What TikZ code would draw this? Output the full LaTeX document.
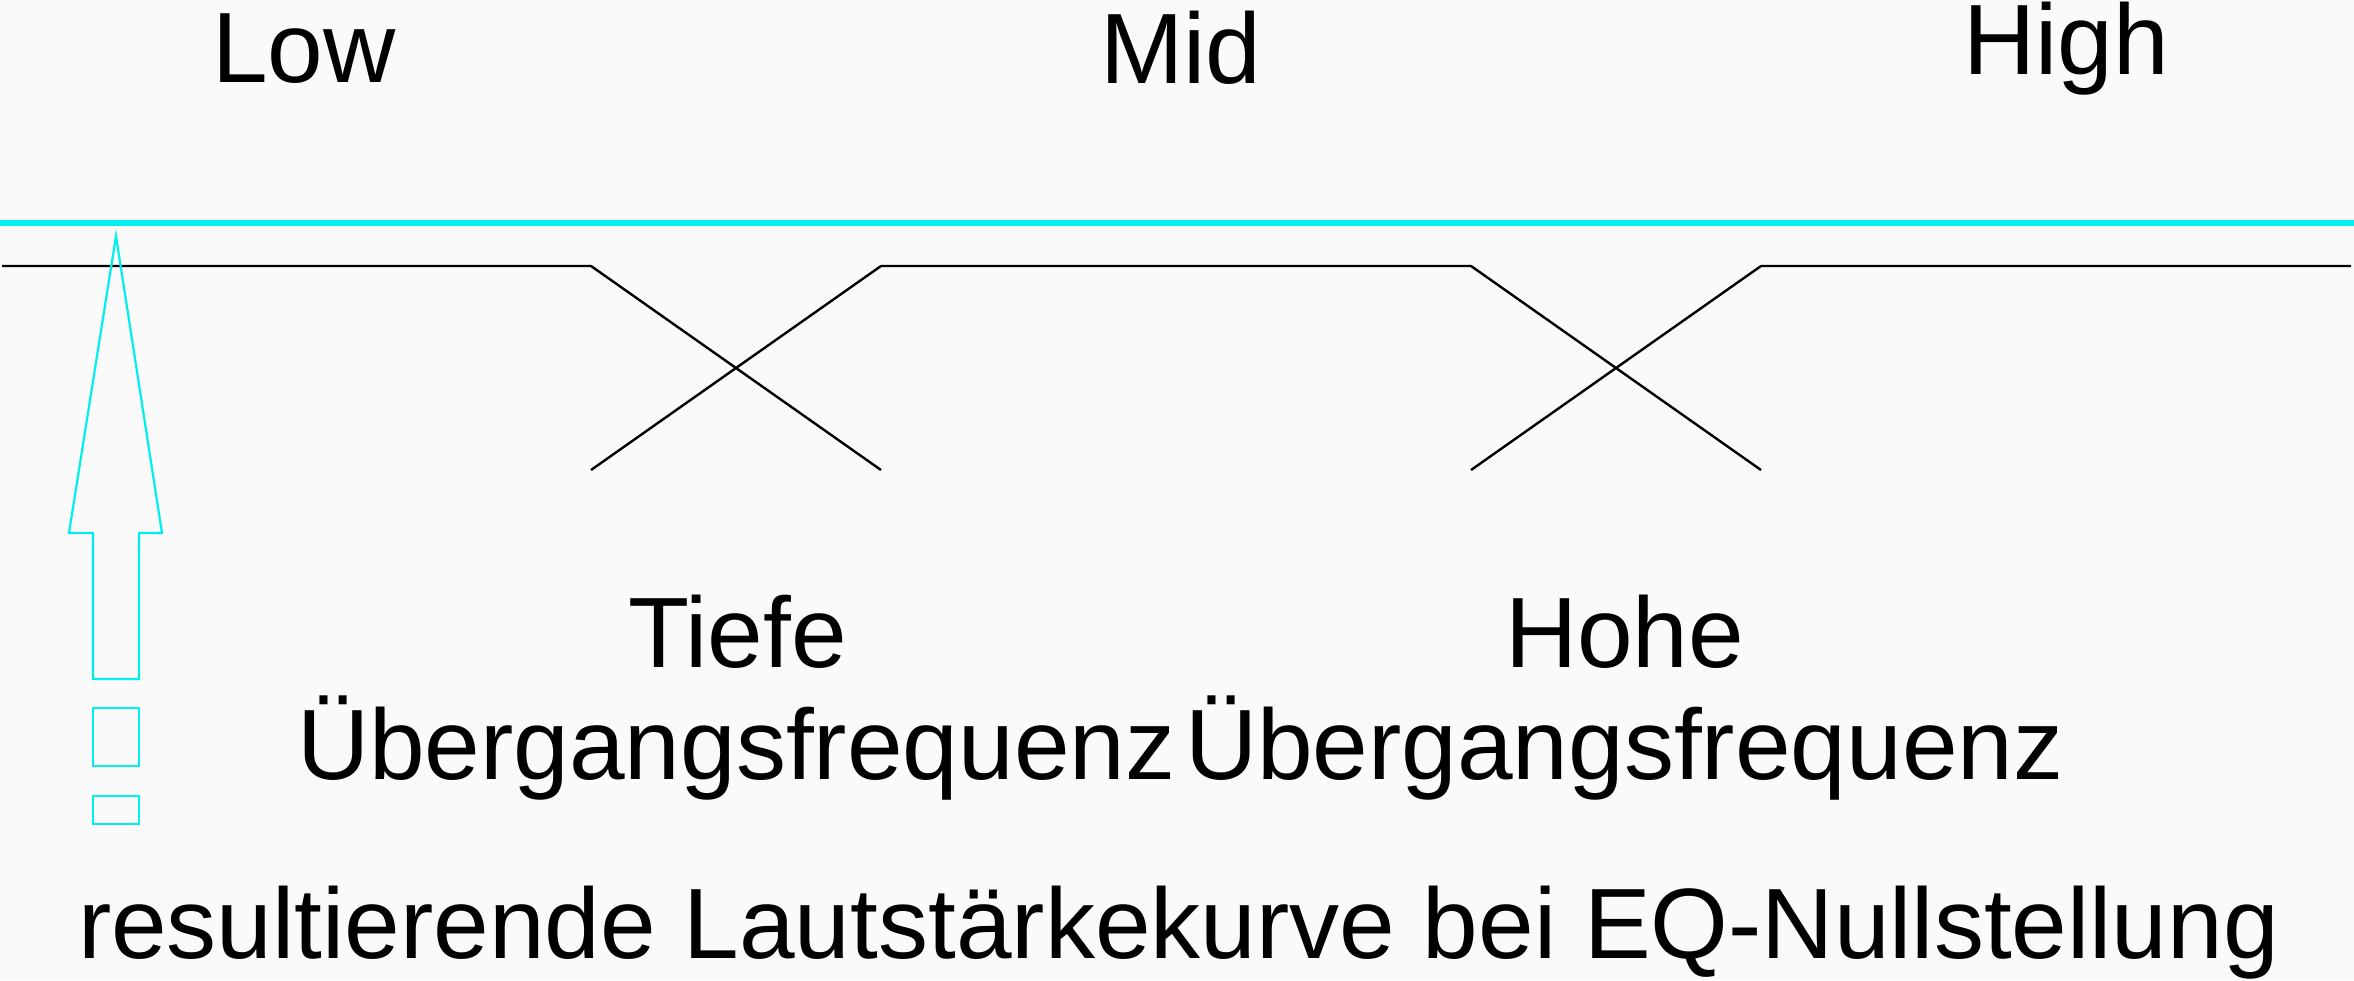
\documentclass[tikz,border=0pt]{standalone}
\usepackage{fontspec}
\setmainfont{Liberation Sans}
\definecolor{bgc}{RGB}{250,250,250}
\definecolor{cy}{RGB}{0,240,240}
\begin{document}
\begin{tikzpicture}[x=0.5pt,y=-0.5pt,
  lbl/.style={anchor=base west,inner sep=0pt,outer sep=0pt,font=\fontsize{50}{60}\selectfont},
  curve/.style={draw=black,line width=1.2pt,line join=miter},
  cyanline/.style={draw=cy,line width=3pt},
  cyanshape/.style={draw=cy,line width=1.1pt}]
\fill[bgc] (0,0) rectangle (2354,980);
\useasboundingbox (0,0) rectangle (2354,980);
% labels
\node[lbl] (low) at (212,82) {Low};
\node[lbl] (mid) at (1100,83) {Mid};
\node[lbl] (high) at (1963,74) {High};
\node[lbl] (tiefe) at (628,667) {Tiefe};
\node[lbl] (uebl) at (297,779) {Übergangsfrequenz};
\node[lbl] (hohe) at (1505,667) {Hohe};
\node[lbl] (uebr) at (1185,779) {Übergangsfrequenz};
\node[lbl] (res) at (78,958) {resultierende Lautstärkekurve bei EQ-Nullstellung};
% reference line
\coordinate (cL) at (0,223);
\coordinate (cR) at (2354,223);
\draw[cyanline] (cL) -- (cR);
% band curves
\coordinate (a0) at (2,266);
\coordinate (a1) at (591,266);
\coordinate (a2) at (881,470);
\coordinate (b0) at (591,470);
\coordinate (b1) at (881,266);
\coordinate (b2) at (1471,266);
\coordinate (b3) at (1761,470);
\coordinate (c0) at (1471,470);
\coordinate (c1) at (1761,266);
\coordinate (c2) at (2351,266);
\draw[curve] (a0) -- (a1) -- (a2);
\draw[curve] (b0) -- (b1) -- (b2) -- (b3);
\draw[curve] (c0) -- (c1) -- (c2);
% cyan arrow
\draw[cyanshape] (116,236) -- (162,533) -- (139,533) -- (139,679) -- (93,679) -- (93,533) -- (69,533) -- cycle;
\draw[cyanshape] (93,708) rectangle (139,766);
\draw[cyanshape] (93,796) rectangle (139,824);
\end{tikzpicture}
\end{document}
